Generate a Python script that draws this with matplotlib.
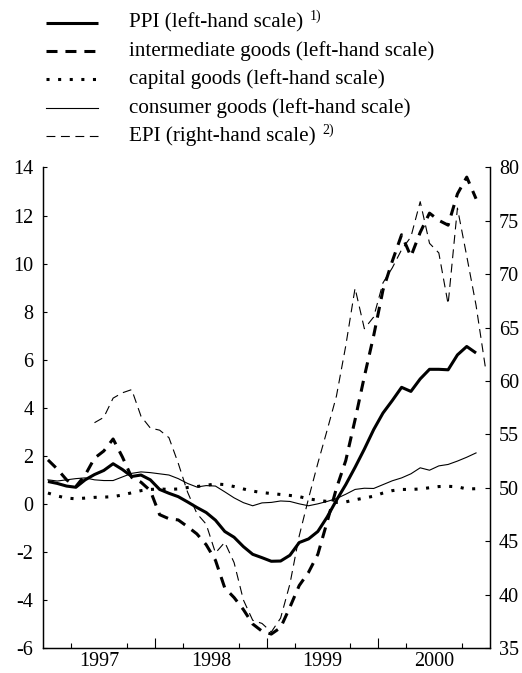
import numpy as np
import matplotlib.pyplot as plt
from matplotlib.lines import Line2D

plt.rcParams['font.family'] = ['Liberation Serif', 'DejaVu Serif']
plt.rcParams['axes.unicode_minus'] = False

# monthly data, Jan 1997 - Dec 2000 (plotted at mid-month)
months = np.arange(48) + 0.5
years = ['1997', '1998', '1999', '2000']

# annual percentage changes (left-hand scale)
ppi = [0.93, 0.85, 0.74, 0.69, 1.0, 1.22, 1.39, 1.67, 1.43, 1.14, 1.2, 1.0, 0.6,
       0.44, 0.3, 0.08, -0.15, -0.36, -0.68, -1.15, -1.39, -1.78, -2.1, -2.24,
       -2.39, -2.38, -2.14, -1.61, -1.46, -1.15, -0.55, 0.15, 0.8, 1.52, 2.28,
       3.09, 3.78, 4.3, 4.85, 4.68, 5.2, 5.6, 5.6, 5.58, 6.2, 6.55, 6.28]
intermediate = [1.83, 1.45, 1.0, 0.72, 1.2, 1.9, 2.2, 2.7, 1.95, 1.1, 0.9, 0.55,
                -0.45, -0.62, -0.67, -0.95, -1.25, -1.7, -2.35, -3.5, -3.9, -4.4,
                -5.0, -5.3, -5.42, -5.15, -4.3, -3.4, -2.85, -2.1, -0.75,
                0.65, 1.8, 3.5, 5.3, 7.0, 8.9, 10.1, 11.2, 10.3, 11.3, 12.1, 11.8,
                11.6, 12.9, 13.6, 12.7]
capital = [0.45, 0.33, 0.24, 0.21, 0.24, 0.27, 0.28, 0.30, 0.37, 0.46, 0.55, 0.6,
           0.62, 0.6, 0.62, 0.68, 0.72, 0.77, 0.83, 0.8, 0.72, 0.62, 0.53, 0.47,
           0.43, 0.39, 0.35, 0.3, 0.21, 0.15, 0.1, 0.06, 0.08, 0.17, 0.24, 0.32,
           0.45, 0.55, 0.6, 0.6, 0.62, 0.67, 0.72, 0.73, 0.71, 0.62, 0.63]
consumer = [1.0, 0.95, 1.0, 1.05, 1.08, 1.0, 0.97, 0.97, 1.12, 1.27,
            1.33, 1.3, 1.25, 1.2, 1.05, 0.85, 0.7, 0.76, 0.74, 0.5,
            0.25, 0.05, -0.08, 0.04, 0.06, 0.12, 0.1, 0.0, -0.08, 0.0,
            0.1, 0.22, 0.4, 0.6, 0.65, 0.64, 0.8, 0.96, 1.08, 1.25,
            1.5, 1.4, 1.58, 1.64, 1.78, 1.94, 2.12]
# EPI level (right-hand scale), starts June 1997
epi = [np.nan] * 5 + [56.1, 56.6, 58.4, 58.9, 59.2, 56.7, 55.6, 55.4, 54.7, 52.3,
                      49.6, 47.6, 46.6, 43.9, 44.9, 43.0, 39.5, 37.6, 37.3, 36.5,
                      37.8, 41.0, 45.5, 49.0, 52.3, 55.4, 58.6, 63.3, 68.7, 64.9,
                      66.0, 69.2, 70.6, 72.3, 73.5, 76.8, 72.9, 72.0, 67.2, 76.2,
                      71.7, 67.1, 61.3]

W, H = 522, 673
fig = plt.figure(figsize=(W / 100, H / 100), dpi=100)
ax = fig.add_axes([43.3 / W, 25 / H, 446.7 / W, 480.5 / H])
ax2 = ax.twinx()

n = len(ppi)
styles = {
    'ppi': dict(color='black', lw=2.2, solid_capstyle='butt'),
    'int': dict(color='black', lw=2.2, linestyle=(0, (3.6, 2.6)), dash_capstyle='butt'),
    'cap': dict(color='black', lw=2.2, linestyle=(0, (1, 2.8)), dash_capstyle='butt'),
    'con': dict(color='black', lw=0.8),
    'epi': dict(color='black', lw=0.8, linestyle=(0, (8, 5))),
}
ax.plot(months[:n], consumer, **styles['con'])
ax.plot(months[:n], capital, **styles['cap'])
ax.plot(months[:n], intermediate, **styles['int'])
ax.plot(months[:n], ppi, **styles['ppi'])
ax2.plot(months, epi, **styles['epi'])

ax.set_xlim(0, 48)
ax.set_ylim(-6, 14)
ax2.set_ylim(35, 80)
ax.set_yticks(np.arange(-6, 15, 2))
ax2.set_yticks(np.arange(35, 81, 5))

# year labels centred in each year, quarterly ticks, long ticks at year boundaries
ax.set_xticks([6, 18, 30, 42])
ax.set_xticklabels(years)
ax.set_xticks([3, 6, 9, 15, 18, 21, 27, 30, 33, 39, 42, 45], minor=True)
ax.tick_params(axis='x', which='major', length=0, labelsize=14.5, pad=3)
ax.tick_params(axis='x', which='minor', direction='in', length=3.6, width=0.8)
sec = ax.secondary_xaxis('bottom')
sec.set_xticks([12, 24, 36])
sec.set_xticklabels([])
sec.tick_params(direction='in', length=7.2, width=0.8)
sec.spines['bottom'].set_visible(False)

ax.tick_params(axis='y', direction='in', length=3, width=0.8, labelsize=14.5, pad=7)
ax2.tick_params(axis='y', direction='in', length=3.5, width=0.8, labelsize=14.5, pad=6.5)
for a in (ax, ax2):
    a.spines['top'].set_visible(False)
    for s in ('left', 'right', 'bottom'):
        a.spines[s].set_linewidth(0.9)

# legend drawn by hand above the plot
labels = ['PPI (left-hand scale)', 'intermediate goods (left-hand scale)',
          'capital goods (left-hand scale)', 'consumer goods (left-hand scale)',
          'EPI (right-hand scale)']
notes = ['1)', '', '', '', '2)']
keys = ['ppi', 'int', 'cap', 'con', 'epi']
renderer = fig.canvas.get_renderer()
for k, (lab, note, key) in enumerate(zip(labels, notes, keys)):
    y = 22.7 + 28.3 * k
    fig.add_artist(Line2D([46 / W, 98 / W], [1 - y / H, 1 - y / H],
                          transform=fig.transFigure, **styles[key]))
    t = fig.text(129 / W, 1 - y / H, lab, fontsize=15.2, va='center', ha='left')
    if note:
        bb = t.get_window_extent(renderer)
        fig.text((bb.x1 + 7) / W, 1 - (y - 6) / H, note, fontsize=10,
                 va='center', ha='left')

fig.savefig('out.png', dpi=100)
